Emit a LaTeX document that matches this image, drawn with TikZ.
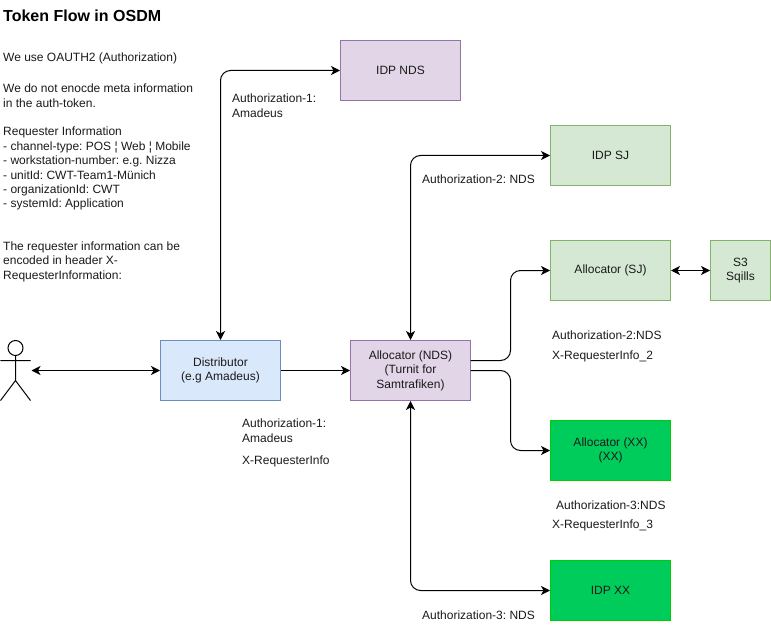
\documentclass[tikz,border=0pt]{standalone}
\usepackage{fontspec}
\setmainfont{Liberation Sans}
\usetikzlibrary{arrows.meta}
\definecolor{lilacfill}{RGB}{225,213,231}
\definecolor{lilacline}{RGB}{150,115,166}
\definecolor{sagefill}{RGB}{213,232,212}
\definecolor{sageline}{RGB}{130,179,102}
\definecolor{skyfill}{RGB}{218,232,252}
\definecolor{skyline}{RGB}{108,142,191}
\definecolor{vividfill}{RGB}{0,204,92}
\definecolor{vividline}{RGB}{0,204,0}
\definecolor{inkgrey}{RGB}{26,26,26}
\frenchspacing
\tikzset{
  tokenbox/.style={draw,line width=1pt,minimum width=120pt,minimum height=60pt,align=center,
    font=\fontsize{12}{14.4}\selectfont,text=inkgrey,inner sep=0pt},
  tokennote/.style={anchor=north west,align=left,inner sep=0pt,text=inkgrey,
    font=\fontsize{12}{14.4}\selectfont},
  tokenflow/.style={line width=1pt,rounded corners=10pt,-{Stealth[length=9pt,width=9pt,inset=2.5pt]}},
  tokenboth/.style={tokenflow,{Stealth[length=9pt,width=9pt,inset=2.5pt]}-{Stealth[length=9pt,width=9pt,inset=2.5pt]}}
}
\begin{document}
\begin{tikzpicture}[x=1pt,y=-1pt]
  \useasboundingbox (-0.5,-0.5) rectangle (770.5,630.5);
  % boxes
  \node[tokenbox,fill=lilacfill,draw=lilacline] (idpnds) at (400,70) {IDP NDS};
  \node[tokenbox,fill=sagefill,draw=sageline] (idpsj) at (610,155) {IDP SJ};
  \node[tokenbox,fill=sagefill,draw=sageline] (allocsj) at (610,270) {Allocator (SJ)};
  \node[tokenbox,fill=sagefill,draw=sageline,minimum width=60pt] (sqills) at (740,270) {S3\\Sqills};
  \node[tokenbox,fill=skyfill,draw=skyline] (distributor) at (220,370) {Distributor\\(e.g Amadeus)};
  \node[tokenbox,fill=lilacfill,draw=lilacline] (allocnds) at (410,370) {Allocator (NDS)\\(Turnit for\\Samtrafiken)};
  \node[tokenbox,fill=vividfill,draw=vividline] (allocxx) at (610,450) {Allocator (XX)\\(XX)};
  \node[tokenbox,fill=vividfill,draw=vividline] (idpxx) at (610,590) {IDP XX};
  % actor
  \coordinate (actorhand) at (31,370);
  \draw[line width=1pt] (15,347.5) circle (7.5pt);
  \draw[line width=1pt] (15,355) -- (15,380) (0,360) -- (30,360)
    (0,400) -- (15,380) -- (30,400);
  % connectors
  \coordinate (allocndsup) at (470,360);
  \coordinate (allocndsdown) at (470,370);
  \draw[tokenboth] (actorhand) -- (distributor.west);
  \draw[tokenflow] (distributor.east) -- (allocnds.west);
  \draw[tokenboth] (distributor.north) -- (220,70) -- (idpnds.west);
  \draw[tokenboth] (allocnds.north) -- (410,155) -- (idpsj.west);
  \draw[tokenboth] (allocnds.south) -- (410,590) -- (idpxx.west);
  \draw[tokenflow] (allocndsup) -- (510,360) -- (510,270) -- (allocsj.west);
  \draw[tokenflow] (allocndsdown) -- (510,370) -- (510,450) -- (allocxx.west);
  \draw[tokenboth] (allocsj.east) -- (sqills.west);
  % texts on the left
  \node[tokennote,font=\fontsize{16}{19}\selectfont\bfseries,text=black] (title) at (2.5,9) {Token Flow in OSDM};
  \node[tokennote] (oauthnote) at (2.5,52) {We use OAUTH2 (Authorization)};
  \node[tokennote] (metanote) at (2.5,83.5) {We do not enocde meta information\\in the auth-token.};
  \node[tokennote] (requesternote) at (2.5,126.5) {Requester Information\\- channel-type: POS ¦ Web ¦ Mobile\\- workstation-number: e.g. Nizza\\- unitId: CWT-Team1-Münich\\- organizationId: CWT\\- systemId: Application};
  \node[tokennote] (headernote) at (2.5,241) {The requester information can be\\encoded in header X-\\RequesterInformation:};
  % texts at the connectors
  \node[tokennote] (authone) at (231.5,93.5) {Authorization-1:\\Amadeus};
  \node[tokennote] (authtwo) at (421.5,174.5) {Authorization-2: NDS};
  \node[tokennote] (authonelow) at (241.5,418.5) {Authorization-1:\\Amadeus};
  \node[tokennote] (infoone) at (241.5,455.5) {X-RequesterInfo};
  \node[tokennote] (authtwolow) at (551.5,330.5) {Authorization-2:NDS};
  \node[tokennote] (infotwo) at (551.5,350.5) {X-RequesterInfo\_2};
  \node[tokennote] (auththree) at (555.5,500.5) {Authorization-3:NDS};
  \node[tokennote] (infothree) at (551.5,519.5) {X-RequesterInfo\_3};
  \node[tokennote] (auththreelow) at (421.5,610.5) {Authorization-3: NDS};
\end{tikzpicture}
\end{document}
